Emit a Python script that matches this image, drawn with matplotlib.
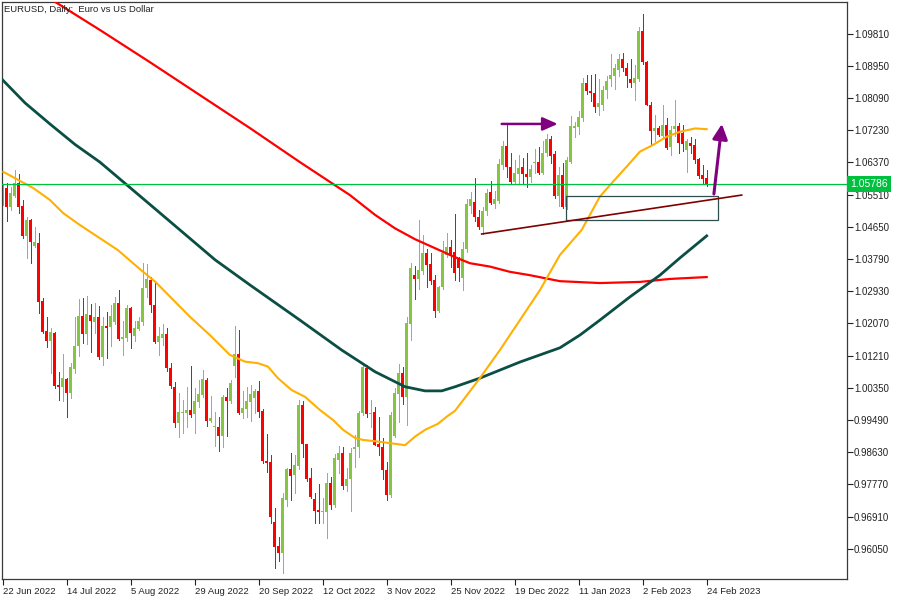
import numpy as np
import matplotlib
matplotlib.use("Agg")
import matplotlib.pyplot as plt
from matplotlib.patches import Rectangle
import matplotlib.transforms as mtransforms

plt.rcParams["font.family"] = ["Liberation Sans", "DejaVu Sans"]

# daily candles, bar 0 = 22 Jun 2022 ... bar 176 = 24 Feb 2023
opens = [1.0532, 1.0569, 1.0518, 1.0548, 1.0582, 1.0521, 1.0441, 1.0483, 1.0414, 1.0422,
         1.0267, 1.0187, 1.0160, 1.0182, 1.0043, 1.0037, 1.0059, 1.0021, 1.0085, 1.0147,
         1.0227, 1.0179, 1.0230, 1.0211, 1.0224, 1.0117, 1.0200, 1.0198, 1.0211, 1.0262,
         1.0166, 1.0168, 1.0248, 1.0174, 1.0192, 1.0211, 1.0302, 1.0323, 1.0256, 1.0158,
         1.0168, 1.0179, 1.0088, 1.0037, 0.9941, 0.9968, 0.9968, 0.9976, 0.9965, 0.9997,
         1.0016, 1.0056, 0.9947, 0.9931, 0.9931, 0.9907, 1.0011, 1.0000, 1.0093, 1.0125,
         0.9968, 0.9979, 0.9997, 1.0008, 1.0027, 0.9973, 0.9840, 0.9837, 0.9677, 0.9613,
         0.9594, 0.9736, 0.9818, 0.9802, 0.9826, 0.9989, 0.9885, 0.9794, 0.9738, 0.9709,
         0.9704, 0.9704, 0.9781, 0.9722, 0.9842, 0.9861, 0.9773, 0.9792, 0.9872, 0.9877,
         0.9968, 1.0088, 0.9965, 0.9971, 0.9885, 0.9877, 0.9816, 0.9749, 0.9907, 1.0019,
         1.0075, 1.0011, 1.0206, 1.0337, 1.0326, 1.0347, 1.0395, 1.0366, 1.0323, 1.0240,
         1.0304, 1.0390, 1.0411, 1.0398, 1.0379, 1.0329, 1.0406, 1.0521, 1.0532, 1.0491,
         1.0465, 1.0507, 1.0558, 1.0526, 1.0534, 1.0630, 1.0681, 1.0625, 1.0585, 1.0606,
         1.0625, 1.0606, 1.0598, 1.0636, 1.0638, 1.0609, 1.0662, 1.0700, 1.0660, 1.0548,
         1.0604, 1.0518, 1.0638, 1.0729, 1.0732, 1.0756, 1.0849, 1.0828, 1.0823, 1.0785,
         1.0791, 1.0831, 1.0860, 1.0868, 1.0884, 1.0913, 1.0889, 1.0860, 1.0849, 1.0860,
         1.0988, 1.0905, 1.0791, 1.0721, 1.0729, 1.0708, 1.0737, 1.0678, 1.0726, 1.0734,
         1.0716, 1.0670, 1.0689, 1.0684, 1.0646, 1.0604, 1.0596]
highs = [1.0577, 1.0582, 1.0572, 1.0617, 1.0606, 1.0537, 1.0491, 1.0486, 1.0464, 1.0449,
         1.0275, 1.0224, 1.0195, 1.0185, 1.0077, 1.0125, 1.0061, 1.0101, 1.0224, 1.0272,
         1.0275, 1.0280, 1.0259, 1.0262, 1.0254, 1.0224, 1.0238, 1.0256, 1.0278, 1.0296,
         1.0214, 1.0256, 1.0251, 1.0214, 1.0224, 1.0369, 1.0366, 1.0331, 1.0315, 1.0198,
         1.0206, 1.0195, 1.0101, 1.0051, 1.0021, 1.0003, 1.0037, 1.0093, 1.0035, 1.0056,
         1.0083, 1.0061, 1.0013, 0.9971, 0.9957, 1.0016, 1.0035, 1.0056, 1.0200, 1.0190,
         1.0027, 1.0037, 1.0043, 1.0032, 1.0053, 0.9979, 0.9912, 0.9856, 0.9714, 0.9637,
         0.9754, 0.9820, 0.9861, 0.9856, 1.0003, 1.0000, 0.9886, 0.9821, 0.9754, 0.9778,
         0.9741, 0.9808, 0.9797, 0.9858, 0.9880, 0.9877, 0.9821, 0.9874, 0.9909, 0.9973,
         1.0096, 1.0096, 1.0003, 0.9984, 0.9957, 0.9901, 0.9837, 0.9971, 1.0035, 1.0099,
         1.0091, 1.0224, 1.0369, 1.0361, 1.0483, 1.0443, 1.0406, 1.0395, 1.0337, 1.0307,
         1.0427, 1.0449, 1.0430, 1.0499, 1.0385, 1.0425, 1.0540, 1.0558, 1.0596, 1.0510,
         1.0518, 1.0566, 1.0588, 1.0561, 1.0646, 1.0694, 1.0737, 1.0662, 1.0644, 1.0657,
         1.0649, 1.0662, 1.0630, 1.0673, 1.0678, 1.0694, 1.0713, 1.0708, 1.0668, 1.0625,
         1.0636, 1.0652, 1.0761, 1.0745, 1.0775, 1.0863, 1.0871, 1.0871, 1.0873, 1.0860,
         1.0841, 1.0868, 1.0927, 1.0900, 1.0927, 1.0929, 1.0903, 1.0913, 1.0897, 1.0999,
         1.1034, 1.0908, 1.0799, 1.0764, 1.0734, 1.0791, 1.0756, 1.0734, 1.0804, 1.0742,
         1.0737, 1.0700, 1.0705, 1.0700, 1.0649, 1.0630, 1.0617]
lows = [1.0524, 1.0480, 1.0510, 1.0545, 1.0502, 1.0436, 1.0382, 1.0369, 1.0410, 1.0235,
        1.0182, 1.0144, 1.0075, 1.0035, 1.0003, 1.0000, 0.9957, 1.0008, 1.0075, 1.0120,
        1.0155, 1.0152, 1.0131, 1.0182, 1.0112, 1.0096, 1.0115, 1.0147, 1.0206, 1.0163,
        1.0123, 1.0160, 1.0141, 1.0160, 1.0190, 1.0203, 1.0278, 1.0238, 1.0155, 1.0123,
        1.0149, 1.0080, 1.0035, 0.9931, 0.9904, 0.9915, 0.9931, 0.9957, 0.9915, 0.9984,
        1.0011, 0.9933, 0.9944, 0.9880, 0.9866, 0.9877, 0.9907, 0.9995, 1.0064, 0.9966,
        0.9955, 0.9957, 0.9947, 0.9968, 0.9957, 0.9834, 0.9810, 0.9674, 0.9554, 0.9573,
        0.9541, 0.9720, 0.9736, 0.9754, 0.9818, 0.9850, 0.9786, 0.9741, 0.9674, 0.9674,
        0.9674, 0.9634, 0.9712, 0.9717, 0.9808, 0.9765, 0.9760, 0.9706, 0.9824, 0.9850,
        0.9963, 0.9957, 0.9931, 0.9882, 0.9856, 0.9792, 0.9736, 0.9744, 0.9904, 0.9944,
        0.9992, 0.9936, 1.0163, 1.0272, 1.0299, 1.0339, 1.0304, 1.0312, 1.0224, 1.0238,
        1.0299, 1.0385, 1.0358, 1.0323, 1.0321, 1.0296, 1.0398, 1.0502, 1.0480, 1.0459,
        1.0446, 1.0497, 1.0526, 1.0516, 1.0529, 1.0620, 1.0598, 1.0580, 1.0582, 1.0580,
        1.0580, 1.0572, 1.0585, 1.0609, 1.0606, 1.0606, 1.0654, 1.0636, 1.0542, 1.0521,
        1.0516, 1.0513, 1.0636, 1.0705, 1.0713, 1.0748, 1.0820, 1.0801, 1.0772, 1.0764,
        1.0777, 1.0809, 1.0841, 1.0833, 1.0868, 1.0881, 1.0839, 1.0839, 1.0804, 1.0855,
        1.0900, 1.0790, 1.0684, 1.0694, 1.0708, 1.0705, 1.0673, 1.0657, 1.0708, 1.0662,
        1.0668, 1.0612, 1.0662, 1.0636, 1.0596, 1.0580, 1.0574]
closes = [1.0569, 1.0518, 1.0556, 1.0582, 1.0518, 1.0441, 1.0483, 1.0425, 1.0425, 1.0265,
          1.0185, 1.0160, 1.0185, 1.0040, 1.0037, 1.0061, 1.0021, 1.0090, 1.0147, 1.0227,
          1.0179, 1.0232, 1.0214, 1.0224, 1.0117, 1.0200, 1.0195, 1.0227, 1.0262, 1.0166,
          1.0171, 1.0248, 1.0182, 1.0195, 1.0214, 1.0302, 1.0326, 1.0256, 1.0158, 1.0174,
          1.0179, 1.0088, 1.0040, 0.9941, 0.9971, 0.9971, 0.9976, 0.9963, 1.0000, 1.0019,
          1.0059, 0.9947, 0.9955, 0.9933, 0.9907, 1.0011, 1.0000, 1.0048, 1.0125, 0.9968,
          0.9981, 1.0000, 1.0019, 1.0027, 0.9971, 0.9840, 0.9834, 0.9690, 0.9610, 0.9594,
          0.9741, 0.9818, 0.9800, 0.9829, 0.9989, 0.9885, 0.9792, 0.9744, 0.9706, 0.9704,
          0.9706, 0.9781, 0.9722, 0.9848, 0.9861, 0.9773, 0.9792, 0.9861, 0.9877, 0.9968,
          1.0090, 0.9965, 0.9968, 0.9883, 0.9877, 0.9816, 0.9749, 0.9963, 1.0021, 1.0075,
          1.0011, 1.0208, 1.0355, 1.0326, 1.0350, 1.0395, 1.0363, 1.0321, 1.0240, 1.0304,
          1.0395, 1.0411, 1.0387, 1.0342, 1.0355, 1.0406, 1.0526, 1.0540, 1.0491, 1.0465,
          1.0507, 1.0556, 1.0529, 1.0540, 1.0633, 1.0681, 1.0625, 1.0585, 1.0609, 1.0622,
          1.0606, 1.0598, 1.0620, 1.0638, 1.0609, 1.0662, 1.0700, 1.0654, 1.0548, 1.0604,
          1.0518, 1.0644, 1.0734, 1.0734, 1.0758, 1.0849, 1.0828, 1.0823, 1.0785, 1.0796,
          1.0831, 1.0855, 1.0871, 1.0889, 1.0913, 1.0889, 1.0868, 1.0849, 1.0863, 1.0988,
          1.0905, 1.0791, 1.0721, 1.0729, 1.0710, 1.0737, 1.0676, 1.0724, 1.0734, 1.0689,
          1.0686, 1.0694, 1.0681, 1.0644, 1.0601, 1.0593, 1.05786]

date_labels = ["22 Jun 2022", "14 Jul 2022", "5 Aug 2022", "29 Aug 2022", "20 Sep 2022",
               "12 Oct 2022", "3 Nov 2022", "25 Nov 2022", "19 Dec 2022", "11 Jan 2023",
               "2 Feb 2023", "24 Feb 2023"]
price_ticks = [1.09810, 1.08950, 1.08090, 1.07230, 1.06370, 1.05510, 1.04650, 1.03790,
               1.02930, 1.02070, 1.01210, 1.00350, 0.99490, 0.98630, 0.97770, 0.96910, 0.96050]
last_price = 1.05786

# moving averages (bar index, price)
ma_red_x = [10.6, 13.1, 24.3, 36.8, 49.3, 61.8, 74.3, 86.8, 93.1, 98.1, 103.1, 108.1,
            113.1, 116.8, 121.8, 126.8, 131.8, 139.3, 149.3, 159.3, 166.8, 176]
ma_red_y = [1.1084, 1.1066, 1.0991, 1.0905, 1.0817, 1.0729, 1.0638, 1.0550, 1.0497, 1.0461,
            1.0432, 1.0408, 1.0384, 1.0368, 1.0359, 1.0345, 1.0336, 1.0320, 1.0315, 1.0318,
            1.0326, 1.0331]
ma_teal_x = [-0.7, 5.6, 11.8, 18.1, 24.3, 36.8, 53.1, 61.8, 74.3, 84.75, 93.1, 100.6, 105.6,
             109.75, 113.1, 119.3, 129.3, 139.3, 144.3, 149.3, 156.8, 164.3, 169.3, 176]
ma_teal_y = [1.0865, 1.0796, 1.0740, 1.0685, 1.0638, 1.0525, 1.0377, 1.0310, 1.0216, 1.0136,
             1.0078, 1.0038, 1.0027, 1.0027, 1.0038, 1.0061, 1.0104, 1.0142, 1.0176, 1.0216,
             1.0278, 1.0336, 1.0382, 1.0441]
ma_orange_x = [0.15, 4.3, 7.6, 11.8, 15.1, 19.3, 28.8, 34.75, 38.1, 41.8, 46.8, 51.8, 56.8,
               60.6, 63.8, 66.3, 68.8, 72.25, 75.6, 79.3, 82.6, 85.1, 88.1, 90.1, 94.3, 100.6,
               103.1, 105.6, 108.8, 111, 113.1, 119.3, 124.3, 129.3, 134.3, 139.3, 144.75,
               149.3, 152.6, 156, 159.3, 162.6, 166, 169.3, 173.1, 176]
ma_orange_y = [1.0612, 1.0588, 1.0569, 1.0537, 1.0502, 1.0470, 1.0403, 1.0348, 1.0319, 1.0279,
               1.0225, 1.0176, 1.0123, 1.0105, 1.0101, 1.0092, 1.0061, 1.0029, 1.0011, 0.9976,
               0.9949, 0.9923, 0.9901, 0.9896, 0.9891, 0.9882, 0.9905, 0.9923, 0.9939, 0.9958,
               0.9974, 1.0061, 1.0136, 1.0216, 1.0296, 1.0390, 1.0457, 1.0546, 1.0586, 1.0626,
               1.0666, 1.0684, 1.0706, 1.0719, 1.0728, 1.0726]

# drawn objects
box_x = [140.8, 178.8]
box_y = [1.0483, 1.0548]
trend_x = [119.75, 184.75]
trend_y = [1.0446, 1.0550]
harrow_x = [124.75, 138.75]
harrow_y = [1.0740, 1.0740]
varrow_x = [177.8, 179.8]
varrow_y = [1.0553, 1.0740]

BULL = "#86C443"
BEAR = "#FF0000"
PURPLE = "#800080"
LINE_GREEN = "#00C040"

fig = plt.figure(figsize=(9, 6), dpi=100)
ax = fig.add_axes([2 / 900, 21 / 600, 845 / 900, 577 / 600])

o = np.array(opens)
h = np.array(highs)
l = np.array(lows)
c = np.array(closes)
x = np.arange(len(o))
up = c >= o
cols = np.where(up, BULL, BEAR)
px = 0.000267
body_lo = np.minimum(o, c)
body_h = np.maximum(np.abs(c - o), px)

ax.vlines(x, l, h, colors=cols, lw=0.72, zorder=2, antialiased=False)
ax.bar(x, body_h, 0.75, bottom=body_lo, color=cols, linewidth=0, zorder=2,
       antialiased=False)

ax.plot(ma_red_x, ma_red_y, color="#FF0000", lw=1.6, zorder=3)
ax.plot(ma_teal_x, ma_teal_y, color="#0B4F44", lw=2.0, zorder=3)
ax.plot(ma_orange_x, ma_orange_y, color="#FFB000", lw=1.5, zorder=3)

ax.axhline(last_price, color=LINE_GREEN, lw=0.9, zorder=4)

ax.add_patch(Rectangle((box_x[0], box_y[0]), box_x[1] - box_x[0], box_y[1] - box_y[0],
                       fill=False, edgecolor="#2F4F4F", lw=0.9, zorder=4))
ax.plot(trend_x, trend_y, color="#800000", lw=1.2, zorder=4)

ax.annotate("", xy=(harrow_x[1], harrow_y[1]), xytext=(harrow_x[0], harrow_y[0]),
            arrowprops=dict(arrowstyle="-|>,head_length=0.9,head_width=0.4", color=PURPLE,
                            lw=1.8, mutation_scale=10, shrinkA=0, shrinkB=0), zorder=5)
ax.annotate("", xy=(varrow_x[1], varrow_y[1]), xytext=(varrow_x[0], varrow_y[0]),
            arrowprops=dict(arrowstyle="-|>,head_length=0.9,head_width=0.45", color=PURPLE,
                            lw=2.2, mutation_scale=10, shrinkA=0, shrinkB=0), zorder=5)

ax.set_xlim(-0.175, 211.075)
ax.set_ylim(0.95245, 1.10657)

ax.yaxis.tick_right()
ax.set_yticks(price_ticks)
ax.set_yticklabels([f"{v:.5f}" for v in price_ticks])
ax.set_xticks(np.arange(0, 16 * len(date_labels), 16))
ax.set_xticklabels(date_labels)
for t in ax.get_xticklabels():
    t.set_horizontalalignment("left")
ax.tick_params(axis="y", direction="out", length=4, width=0.8, labelsize=7,
               colors="#222222", pad=1)
ax.tick_params(axis="x", direction="out", length=4, width=0.8, labelsize=6.8,
               colors="#222222", pad=2)
for s in ax.spines.values():
    s.set_color("#3A3A3A")
    s.set_linewidth(0.9)

trans = mtransforms.blended_transform_factory(ax.transAxes, ax.transData)
ax.text(1.004, last_price, "1.05786", transform=trans, ha="left", va="center",
        fontsize=7.5, color="white", zorder=10, clip_on=False,
        bbox=dict(facecolor=LINE_GREEN, edgecolor="none", boxstyle="square,pad=0.3"))

fig.text(4 / 900, 1 - 9 / 600, "EURUSD, Daily:  Euro vs US Dollar", fontsize=6.8,
         color="#222222", va="center", ha="left")

fig.savefig("out.png", dpi=100)
